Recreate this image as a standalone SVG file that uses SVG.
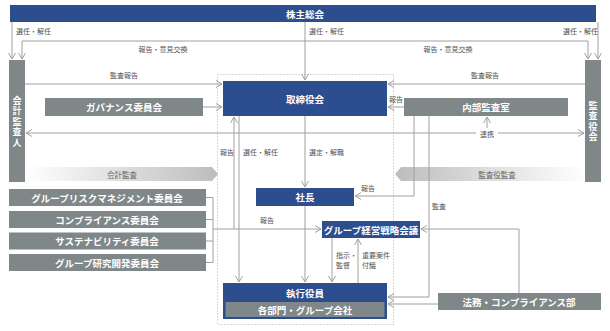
<svg xmlns="http://www.w3.org/2000/svg" width="610" height="331" viewBox="0 0 610 331">
<style>
text{font-family:"Noto Sans CJK JP","Noto Sans",sans-serif}
.blue{fill:#2c4d8e}
.gray{fill:#7f8788}
.bt{fill:#fff;font-size:9.5px;font-weight:bold;text-anchor:middle;dominant-baseline:central}
.vt{fill:#fff;font-size:9px;font-weight:bold;text-anchor:middle;writing-mode:vertical-rl;letter-spacing:1.5px}
.lb{fill:#555;font-size:7px;dominant-baseline:central}
.ln{fill:none;stroke:#a0a0a0;stroke-width:1}
.ga{fill:#666;font-size:7.5px;text-anchor:middle;dominant-baseline:central}
</style>
<defs>
<marker id="ar" viewBox="0 0 8 8" refX="7" refY="4" markerWidth="8" markerHeight="8" markerUnits="userSpaceOnUse" orient="auto-start-reverse">
<path d="M1,0.5 L7,4 L1,7.5" fill="none" stroke="#a0a0a0" stroke-width="1"/>
</marker>
<linearGradient id="gl" x1="0" x2="1" y1="0" y2="0"><stop offset="0" stop-color="#fff"/><stop offset="1" stop-color="#bdbdbd"/></linearGradient>
<linearGradient id="gr" x1="0" x2="1" y1="0" y2="0"><stop offset="0" stop-color="#bdbdbd"/><stop offset="1" stop-color="#fff"/></linearGradient>
</defs>
<rect width="610" height="331" fill="#fff"/>
<rect x="217.5" y="74.5" width="176" height="250" fill="none" stroke="#a9b3d2" stroke-width="1" stroke-dasharray="1,2"/>

<g id="audit-arrows">
<polygon points="25,167 212,167 218,174 212,181 25,181" fill="url(#gl)"/>
<text class="ga" x="122" y="174">会計監査</text>
<polygon points="395,174 401,167 585,167 585,181 401,181" fill="url(#gr)"/>
<text class="ga" x="497" y="174">監査役監査</text>
</g>

<g id="connectors">
<path class="ln" d="M12,22 V59" marker-end="url(#ar)"/>
<path class="ln" d="M22,59 V41 H588 V59" marker-start="url(#ar)" marker-end="url(#ar)"/>
<path class="ln" d="M598,22 V59" marker-end="url(#ar)"/>
<path class="ln" d="M305,22 V80" marker-end="url(#ar)"/>
<path class="ln" d="M25,84 H222" marker-end="url(#ar)"/>
<path class="ln" d="M585,84 H388" marker-end="url(#ar)"/>
<path class="ln" d="M203,107 H222" marker-end="url(#ar)"/>
<path class="ln" d="M404,107 H388" marker-end="url(#ar)"/>
<path class="ln" d="M26,133 H584" marker-start="url(#ar)" marker-end="url(#ar)"/>
<path class="ln" d="M487,128 V117" marker-end="url(#ar)"/>
<path class="ln" d="M234,229 V117" marker-end="url(#ar)"/>
<path class="ln" d="M239,116 V282" marker-end="url(#ar)"/>
<path class="ln" d="M305,116 V187" marker-end="url(#ar)"/>
<path class="ln" d="M305,206 V282" marker-end="url(#ar)"/>
<path class="ln" d="M414,116 V196 H355" marker-end="url(#ar)"/>
<path class="ln" d="M429,116 V297 H388" marker-end="url(#ar)"/>
<path class="ln" d="M206,197.5 H213 M206,219.5 H213 M206,241 H213 M206,262.5 H213 M213,197.5 V262.5"/>
<path class="ln" d="M213,229 H321" marker-end="url(#ar)"/>
<path class="ln" d="M332,238 V282" marker-end="url(#ar)"/>
<path class="ln" d="M358,283 V239" marker-end="url(#ar)"/>
<path class="ln" d="M438,304 H388" marker-end="url(#ar)"/>
<path class="ln" d="M519,293 V229 H421" marker-end="url(#ar)"/>
<rect x="476" y="128" width="22" height="10" fill="#fff"/>
<text class="lb" x="487" y="134" text-anchor="middle">連携</text>
<text class="lb" x="16" y="31">選任・解任</text>
<text class="lb" x="309" y="31">選任・解任</text>
<text class="lb" x="563" y="31">選任・解任</text>
<text class="lb" x="163" y="49" text-anchor="middle">報告・意見交換</text>
<text class="lb" x="448" y="49" text-anchor="middle">報告・意見交換</text>
<text class="lb" x="124" y="75" text-anchor="middle">監査報告</text>
<text class="lb" x="485" y="75" text-anchor="middle">監査報告</text>
<text class="lb" x="389" y="99">報告</text>
<text class="lb" x="220" y="152">報告</text>
<text class="lb" x="243" y="152">選任・解任</text>
<text class="lb" x="309" y="152">選定・解職</text>
<text class="lb" x="361" y="188">報告</text>
<text class="lb" x="432" y="206">監査</text>
<text class="lb" x="260" y="220">報告</text>
<text class="lb" x="336" y="255">指示・</text>
<text class="lb" x="336" y="265">監督</text>
<text class="lb" x="362" y="255">重要案件</text>
<text class="lb" x="362" y="265">付議</text>
</g>

<g id="shareholders"><rect class="blue" x="10" y="5" width="586" height="17"/><text class="bt" x="305" y="13.5">株主総会</text></g>
<g id="accounting-auditor"><rect class="gray" x="9" y="60" width="16" height="122"/>
<text class="vt" x="17" y="122">会計監査人</text></g>
<g id="audit-board"><rect class="gray" x="585" y="60" width="16" height="122"/>
<text class="vt" x="593" y="122">監査役会</text></g>
<g id="board"><rect class="blue" x="223" y="81" width="164" height="35"/><text class="bt" x="305" y="98.5">取締役会</text></g>
<g id="governance"><rect class="gray" x="45" y="98" width="158" height="18"/><text class="bt" x="124" y="107">ガバナンス委員会</text></g>
<g id="internal-audit"><rect class="gray" x="404" y="98" width="164" height="18"/><text class="bt" x="486" y="107">内部監査室</text></g>
<g id="president"><rect class="blue" x="256" y="188" width="98" height="18"/><text class="bt" x="305" y="197">社長</text></g>
<g id="risk"><rect class="gray" x="9" y="189" width="197" height="17"/><text class="bt" x="107" y="197.5">グループリスクマネジメント委員会</text></g>
<g id="compliance"><rect class="gray" x="9" y="211" width="197" height="17"/><text class="bt" x="107" y="219.5">コンプライアンス委員会</text></g>
<g id="sustainability"><rect class="gray" x="9" y="232.5" width="197" height="17"/><text class="bt" x="107" y="241">サステナビリティ委員会</text></g>
<g id="rnd"><rect class="gray" x="9" y="254" width="197" height="17"/><text class="bt" x="107" y="262.5">グループ研究開発委員会</text></g>
<g id="strategy"><rect class="blue" x="322" y="221" width="98" height="17"/><text class="bt" x="371" y="229.5">グループ経営戦略会議</text></g>
<g id="officers"><rect class="blue" x="223" y="283" width="164" height="36"/><text class="bt" x="305" y="292.5">執行役員</text>
<rect class="gray" x="225.5" y="302" width="159" height="15"/><text class="bt" x="305" y="309.5">各部門・グループ会社</text></g>
<g id="legal"><rect class="gray" x="438" y="293" width="163" height="17"/><text class="bt" x="519" y="301.5">法務・コンプライアンス部</text></g>
</svg>
